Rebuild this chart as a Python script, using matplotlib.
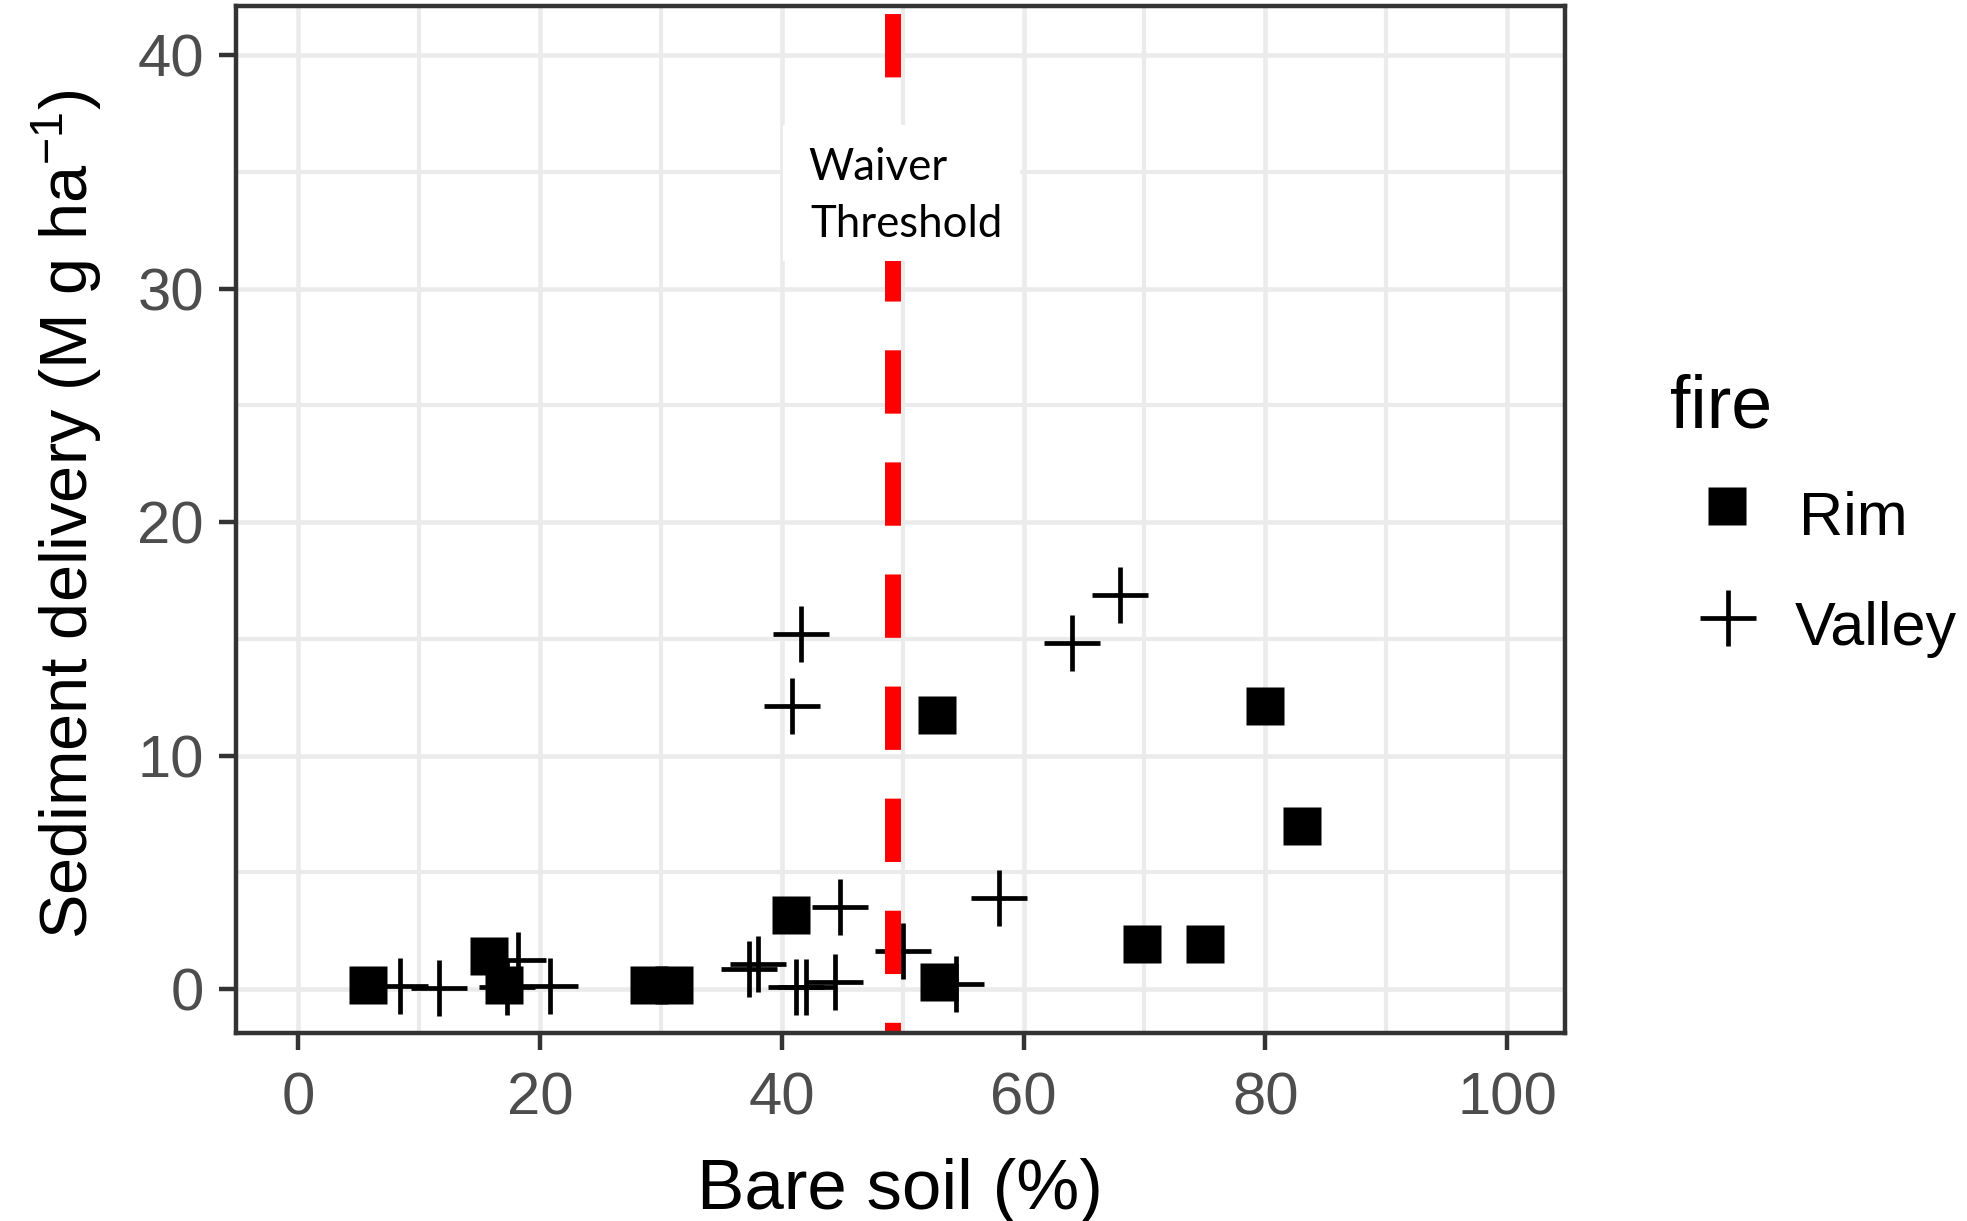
import matplotlib
matplotlib.use("Agg")
import matplotlib.pyplot as plt
from matplotlib.lines import Line2D
from matplotlib.patches import Rectangle

# bare soil (%) vs sediment delivery (Mg/ha)
rim_bare = [5.8, 15.8, 17.0, 29.0, 31.1, 40.8, 52.8, 53.0, 69.8, 75.0, 80.0, 83.0]
rim_sed = [0.19, 1.42, 0.19, 0.19, 0.19, 3.18, 11.72, 0.3, 1.94, 1.94, 12.14, 6.99]

valley_bare = [8.4, 11.6, 17.3, 18.2, 20.8, 37.3, 38.0, 41.2, 42.0, 44.4,
               44.8, 40.85, 41.6, 50.0, 54.4, 58.0, 64.0, 68.0]
valley_sed = [0.15, 0.05, 0.1, 1.25, 0.15, 0.87, 1.08, 0.1, 0.1, 0.3,
              3.5, 12.14, 15.2, 1.64, 0.2, 3.89, 14.83, 16.88]

waiver_x = 49.2

x_ticks = [0, 20, 40, 60, 80, 100]
x_minor = [10, 30, 50, 70, 90]
y_ticks = [0, 10, 20, 30, 40]
y_minor = [5, 15, 25, 35]

plt.rcParams['font.family'] = ['Liberation Sans', 'DejaVu Sans']
plt.rcParams['mathtext.default'] = 'regular'
plt.rcParams['lines.scale_dashes'] = False

fig = plt.figure(figsize=(19.67, 12.21), dpi=100)
ax = fig.add_axes([0.11973, 0.15397, 0.6759, 0.84111])

# points
ax.plot(rim_bare, rim_sed, ls='none', marker='s', ms=27,
        mfc='black', mec='none', zorder=3)
ax.plot(valley_bare, valley_sed, ls='none', marker='+', ms=40,
        mew=3.4, color='black', zorder=3)

# waiver threshold line, dashes start from the top of the panel
ax.plot([waiver_x, waiver_x], [1, 0], transform=ax.get_xaxis_transform(),
        color='red', lw=11.5, linestyle=(74.9, (45.6, 35.1)), zorder=4)

# label box over the line
ax.add_patch(Rectangle((0.4118, 0.7517), 0.1783, 0.1324, transform=ax.transAxes,
                       fc='white', ec='none', zorder=5))
ax.text(0.4306, 0.8306, 'Waiver', transform=ax.transAxes, family='Lato',
        fontsize=31.5, va='baseline', ha='left', zorder=6)
ax.text(0.4321, 0.7751, 'Threshold', transform=ax.transAxes, family='Lato',
        fontsize=31.5, va='baseline', ha='left', zorder=6)

ax.set_xlim(-5.2, 104.8)
ax.set_ylim(-1.88, 42.1)
ax.set_xticks(x_ticks)
ax.set_xticks(x_minor, minor=True)
ax.set_yticks(y_ticks)
ax.set_yticks(y_minor, minor=True)
ax.set_axisbelow(True)
ax.grid(which='major', color='#EBEBEB', lw=3.3)
ax.grid(which='minor', color='#EBEBEB', lw=3.0)
ax.tick_params(which='major', length=12, width=3.2, color='#333333',
               labelsize=43, labelcolor='#4D4D4D')
ax.tick_params(which='minor', length=0)
ax.tick_params(axis='x', pad=16)
ax.tick_params(axis='y', pad=10.8)
for s in ax.spines.values():
    s.set_color('#333333')
    s.set_linewidth(3.2)
    s.set_zorder(7)

# axis titles
fig.text(0.4576, 0.0098, 'Bare soil (%)', fontsize=51, ha='center', va='baseline')
fig.text(0.0445, 0.579, 'Sediment delivery (M g ha$^{-1}$)', fontsize=48,
         rotation=90, rotation_mode='anchor', ha='center', va='baseline')

# legend
W, H = 1967.0, 1221.0
fig.text(1670 / W, 1 - 428 / H, 'fire', fontsize=53, ha='left', va='baseline')
fig.add_artist(Line2D([1726.5 / W], [1 - 505.5 / H], transform=fig.transFigure,
                      ls='none', marker='s', ms=28, mfc='black', mec='none'))
fig.add_artist(Line2D([1728 / W], [1 - 618 / H], transform=fig.transFigure,
                      ls='none', marker='+', ms=40, mew=3.4, color='black'))
fig.text(1799 / W, 1 - 535 / H, 'Rim', fontsize=44, ha='left', va='baseline')
fig.text(1795 / W, 1 - 645 / H, 'Valley', fontsize=44, ha='left', va='baseline')

fig.savefig('out.png', dpi=100)
